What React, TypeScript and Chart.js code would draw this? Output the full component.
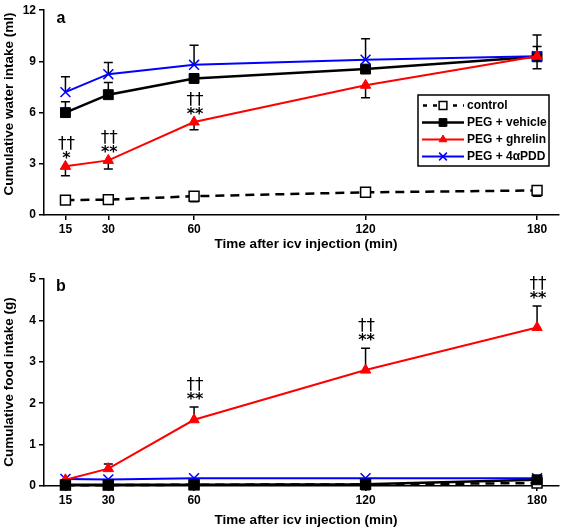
import React, { useEffect, useRef } from "react";
import { Chart, registerables } from "chart.js";
import { drawPoint } from "chart.js/helpers";

Chart.register(...registerables);

// ---------- data ----------
const timePoints = [15, 30, 60, 120, 180];
const xTickValues = [15, 30, 60, 120, 180];

const seriesNames = ["control", "PEG + vehicle", "PEG + ghrelin", "PEG + 4\u03b1PDD"];

// panel a: cumulative water intake (ml)
const waterControl = [0.87, 0.9, 1.1, 1.33, 1.44];
const waterVehicle = [6.0, 7.05, 8.0, 8.55, 9.27];
const waterGhrelin = [2.85, 3.2, 5.45, 7.6, 9.3];
const waterPDD = [7.2, 8.25, 8.8, 9.1, 9.3];

const waterControlErrUp = [0, 0, 0, 0, 0];
const waterControlErrDown = [0, 0, 0.33, 0.28, 0.34];
const waterVehicleErrUp = [0.63, 0.72, 0, 0, 0.6];
const waterVehicleErrDown = [0, 0, 0, 0, 0.7];
const waterGhrelinErrUp = [0, 0, 0, 0, 0];
const waterGhrelinErrDown = [0.55, 0.5, 0.45, 0.73, 0];
const waterPDDErrUp = [0.9, 0.69, 1.14, 1.23, 1.24];
const waterPDDErrDown = [0, 0, 0, 0, 0];

const waterStars = ["*", "**", "**", "", ""];
const waterDaggers = ["\u2020\u2020", "\u2020\u2020", "\u2020\u2020", "", ""];

// panel b: cumulative food intake (g)
const foodControl = [0.02, 0.02, 0.03, 0.04, 0.07];
const foodVehicle = [0.03, 0.03, 0.03, 0.04, 0.15];
const foodGhrelin = [0.15, 0.42, 1.6, 2.8, 3.83];
const foodPDD = [0.17, 0.16, 0.19, 0.19, 0.19];

const foodControlErrUp = [0, 0, 0, 0, 0];
const foodControlErrDown = [0, 0, 0, 0, 0];
const foodVehicleErrUp = [0, 0, 0, 0, 0];
const foodVehicleErrDown = [0, 0, 0, 0.13, 0];
const foodGhrelinErrUp = [0, 0.11, 0.31, 0.53, 0.52];
const foodGhrelinErrDown = [0, 0, 0, 0, 0];
const foodPDDErrUp = [0, 0, 0, 0, 0];
const foodPDDErrDown = [0, 0, 0, 0, 0];

const foodStars = ["", "", "**", "**", "**"];
const foodDaggers = ["", "", "\u2020\u2020", "\u2020\u2020", "\u2020\u2020"];

// ---------- styles ----------
const FONT = "'Liberation Sans', Arial, sans-serif";
const RED = "#ff0000";
const BLUE = "#0000ff";

const seriesStyles = [
  { borderColor: "#000", backgroundColor: "#fff", pointStyle: "rect", pointRadius: 7, pointBorderWidth: 1.5, borderWidth: 2.5, borderDash: [9, 6] },
  { borderColor: "#000", backgroundColor: "#000", pointStyle: "rect", pointRadius: 7, pointBorderWidth: 1, borderWidth: 2.5, borderDash: [] },
  { borderColor: RED, backgroundColor: RED, pointStyle: "triangle", pointRadius: 6, pointBorderWidth: 1, borderWidth: 2, borderDash: [] },
  { borderColor: BLUE, backgroundColor: BLUE, pointStyle: "crossRot", pointRadius: 7, pointBorderWidth: 1.5, borderWidth: 2, borderDash: [] },
];

type PanelCfg = {
  values: number[][];
  errUp: number[][];
  errDown: number[][];
  stars: string[];
  daggers: string[];
  starSeries: number;
  yMax: number;
  yStep: number;
  yTitle: string;
  label: string;
  padTop: number;
  padRight: number;
  xAxisHeight: number;
  width: number;
  height: number;
  showLegend: boolean;
  yTitleY: number;
  xTitleY: number;
  drawOrder: number[];
};

function centeredText(ctx: CanvasRenderingContext2D, text: string, x: number, cy: number) {
  if (!text) return;
  ctx.textAlign = "center";
  ctx.textBaseline = "alphabetic";
  const m = ctx.measureText(text);
  const asc = m.actualBoundingBoxAscent;
  const desc = m.actualBoundingBoxDescent;
  ctx.fillText(text, x, cy + (asc - desc) / 2);
}

function makeChart(canvas: HTMLCanvasElement, cfg: PanelCfg) {
  const datasets = cfg.values.map((vals, i) => {
    const s = seriesStyles[i];
    return {
      label: seriesNames[i],
      data: vals.map((v, j) => ({ x: timePoints[j], y: v })),
      borderColor: s.borderColor,
      backgroundColor: s.backgroundColor,
      pointBackgroundColor: s.backgroundColor,
      pointBorderColor: s.borderColor,
      pointStyle: s.pointStyle,
      pointRadius: s.pointRadius,
      pointBorderWidth: s.pointBorderWidth,
      borderWidth: s.borderWidth,
      borderDash: s.borderDash,
      tension: 0,
      fill: false,
      clip: false as any,
      order: cfg.drawOrder[i],
    };
  });

  const errorBars = {
    id: "errorBars",
    beforeDatasetsDraw(chart: any) {
      const ctx = chart.ctx;
      const xs = chart.scales.x;
      const ys = chart.scales.y;
      ctx.save();
      ctx.strokeStyle = "#000";
      ctx.lineWidth = 1.5;
      cfg.values.forEach((vals, i) => {
        vals.forEach((v, j) => {
          const px = xs.getPixelForValue(timePoints[j]);
          const ends: number[] = [];
          if (cfg.errUp[i][j] > 0) ends.push(v + cfg.errUp[i][j]);
          if (cfg.errDown[i][j] > 0) ends.push(v - cfg.errDown[i][j]);
          ends.forEach((e) => {
            const py0 = ys.getPixelForValue(v);
            const py1 = ys.getPixelForValue(e);
            ctx.beginPath();
            ctx.moveTo(px, py0);
            ctx.lineTo(px, py1);
            ctx.moveTo(px - 4.5, py1);
            ctx.lineTo(px + 4.5, py1);
            ctx.stroke();
          });
        });
      });
      ctx.restore();
    },
  };

  const decorations = {
    id: "decorations",
    afterDraw(chart: any) {
      const ctx = chart.ctx;
      const xs = chart.scales.x;
      const ys = chart.scales.y;
      const area = chart.chartArea;
      ctx.save();
      ctx.fillStyle = "#000";
      // significance marks
      const si = cfg.starSeries;
      cfg.values[si].forEach((v, j) => {
        if (!cfg.stars[j] && !cfg.daggers[j]) return;
        const top = v + cfg.errUp[si][j];
        const px = xs.getPixelForValue(timePoints[j]) + 1;
        const py = ys.getPixelForValue(top);
        ctx.font = `bold 16px 'DejaVu Sans', ${FONT}`;
        centeredText(ctx, cfg.stars[j], px, py - 11);
        ctx.font = `17px 'DejaVu Sans', ${FONT}`;
        centeredText(ctx, cfg.daggers[j], px, py - 23);
      });
      // panel label
      ctx.font = `bold 16px ${FONT}`;
      ctx.textAlign = "center";
      ctx.textBaseline = "middle";
      ctx.fillText(cfg.label, 61, area.top + 8);
      // axis titles
      ctx.font = `bold 13.5px ${FONT}`;
      ctx.fillText("Time after icv injection (min)", 306, cfg.xTitleY);
      ctx.save();
      ctx.translate(9, cfg.yTitleY);
      ctx.rotate(-Math.PI / 2);
      ctx.fillText(cfg.yTitle, 0, 0);
      ctx.restore();
      // legend
      if (cfg.showLegend) {
        const bx = 418, by = 95, bw = 131, bh = 71;
        ctx.fillStyle = "#fff";
        ctx.fillRect(bx, by, bw, bh);
        ctx.strokeStyle = "#000";
        ctx.lineWidth = 1.5;
        ctx.strokeRect(bx, by, bw, bh);
        const rows = [105.5, 122.5, 139.5, 156.5];
        seriesNames.forEach((name, i) => {
          const s = seriesStyles[i];
          const ry = rows[i];
          ctx.strokeStyle = s.borderColor;
          ctx.lineWidth = s.borderWidth;
          ctx.setLineDash(i === 0 ? [4, 6] : []);
          ctx.lineDashOffset = i === 0 ? -1 : 0;
          ctx.beginPath();
          ctx.moveTo(422, ry);
          ctx.lineTo(464, ry);
          ctx.stroke();
          ctx.setLineDash([]);
          ctx.fillStyle = s.backgroundColor;
          ctx.strokeStyle = s.borderColor;
          ctx.lineWidth = s.pointBorderWidth;
          drawPoint(ctx, { pointStyle: s.pointStyle as any, radius: s.pointRadius - 1.5, rotation: 0, borderWidth: s.pointBorderWidth }, 443, ry);
          ctx.fillStyle = "#000";
          ctx.font = `bold 12px ${FONT}`;
          ctx.textAlign = "left";
          ctx.textBaseline = "middle";
          ctx.fillText(name, 467, ry);
        });
      }
      ctx.restore();
    },
  };

  const axisCommon = {
    border: { display: true, color: "#000", width: 1.5 },
    grid: { display: true, drawOnChartArea: false, drawTicks: true, tickLength: 5, color: "#000", lineWidth: 1.5 },
  };

  return new Chart(canvas, {
    type: "line",
    data: { datasets: datasets as any },
    plugins: [errorBars, decorations],
    options: {
      responsive: false,
      animation: false,
      devicePixelRatio: 1,
      layout: { padding: { top: cfg.padTop, right: cfg.padRight, left: 0, bottom: 0 } },
      plugins: { legend: { display: false }, tooltip: { enabled: false } },
      scales: {
        x: {
          type: "linear",
          min: 7.5,
          max: 187.5,
          ...axisCommon,
          afterBuildTicks: (scale: any) => {
            scale.ticks = xTickValues.map((v) => ({ value: v }));
          },
          afterFit: (scale: any) => {
            scale.height = cfg.xAxisHeight;
          },
          ticks: {
            color: "#000",
            padding: 2,
            maxRotation: 0,
            autoSkip: false,
            font: { family: FONT, weight: "bold", size: 12 },
            callback: (v: any) => String(v),
          },
        },
        y: {
          type: "linear",
          min: 0,
          max: cfg.yMax,
          ...axisCommon,
          afterFit: (scale: any) => {
            scale.width = 44;
          },
          ticks: {
            stepSize: cfg.yStep,
            color: "#000",
            padding: 3,
            font: { family: FONT, weight: "bold", size: 12 },
          },
        },
      },
    } as any,
  });
}

function Panel({ cfg, top }: { cfg: PanelCfg; top: number }) {
  const ref = useRef<HTMLCanvasElement>(null);
  useEffect(() => {
    if (!ref.current) return;
    const chart = makeChart(ref.current, cfg);
    return () => chart.destroy();
  }, []);
  return (
    <div style={{ position: "absolute", left: 0, top, width: cfg.width, height: cfg.height }}>
      <canvas ref={ref} width={cfg.width} height={cfg.height} style={{ display: "block" }} />
    </div>
  );
}

const panelA: PanelCfg = {
  values: [waterControl, waterVehicle, waterGhrelin, waterPDD],
  errUp: [waterControlErrUp, waterVehicleErrUp, waterGhrelinErrUp, waterPDDErrUp],
  errDown: [waterControlErrDown, waterVehicleErrDown, waterGhrelinErrDown, waterPDDErrDown],
  stars: waterStars,
  daggers: waterDaggers,
  starSeries: 2,
  yMax: 12,
  yStep: 3,
  yTitle: "Cumulative water intake (ml)",
  label: "a",
  padTop: 7,
  padRight: 5,
  xAxisHeight: 41,
  width: 567,
  height: 256,
  showLegend: true,
  yTitleY: 104,
  xTitleY: 244,
  drawOrder: [3, 2, 0, 1],
};

const panelB: PanelCfg = {
  values: [foodControl, foodVehicle, foodGhrelin, foodPDD],
  errUp: [foodControlErrUp, foodVehicleErrUp, foodGhrelinErrUp, foodPDDErrUp],
  errDown: [foodControlErrDown, foodVehicleErrDown, foodGhrelinErrDown, foodPDDErrDown],
  stars: foodStars,
  daggers: foodDaggers,
  starSeries: 2,
  yMax: 5,
  yStep: 1,
  yTitle: "Cumulative food intake (g)",
  label: "b",
  padTop: 23,
  padRight: 2,
  xAxisHeight: 42,
  width: 567,
  height: 272,
  showLegend: false,
  yTitleY: 126,
  xTitleY: 264,
  drawOrder: [1, 0, 2, 3],
};

export default function App() {
  return (
    <div style={{ position: "absolute", left: 0, top: 0, width: 567, height: 528, background: "#fff" }}>
      <Panel cfg={panelA} top={0} />
      <Panel cfg={panelB} top={256} />
    </div>
  );
}
